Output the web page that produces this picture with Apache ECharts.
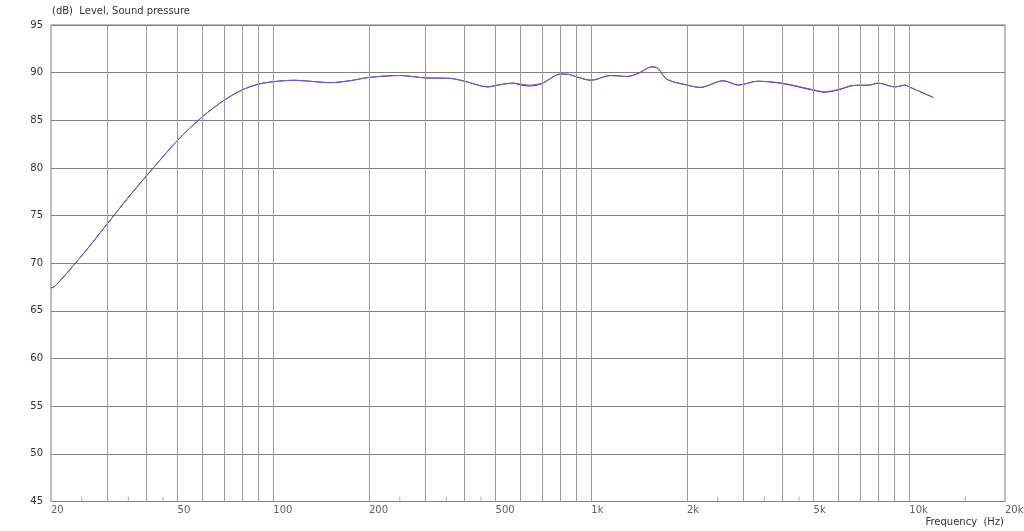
<!DOCTYPE html>
<html>
<head>
<meta charset="utf-8">
<script src="https://cdn.jsdelivr.net/npm/echarts@6/dist/echarts.min.js"></script>
<style>html,body{margin:0;padding:0;background:#fff}#c{width:1024px;height:531px}</style>
</head>
<body>
<div id="c"></div>
<script>
// Frequencies (Hz) and levels (dB)
const freqs = [20,20.6,25,30,35,40,50,60,70,80,90,100,116,130,151,174,200,250,300,360,400,474,500,568,600,640,700,800,856,900,1000,1146,1298,1400,1552,1620,1730,2000,2200,2600,2900,3330,4000,5000,5420,6000,6680,7500,8000,9000,9700,10000,11900];
const levelBlue = [67.4,67.6,70.8,74.1,76.9,79.2,82.9,85.4,87.1,88.2,88.8,89.05,89.2,89.1,88.95,89.15,89.5,89.7,89.45,89.4,89.1,88.5,88.65,88.9,88.8,88.7,88.9,89.85,89.8,89.55,89.2,89.7,89.6,89.9,90.6,90.45,89.3,88.7,88.45,89.15,88.7,89.1,88.9,88.2,88.0,88.25,88.67,88.7,88.9,88.5,88.67,88.5,87.4];
const levelRed  = [67.4,67.6,70.8,74.1,76.9,79.2,82.9,85.4,87.1,88.2,88.8,89.05,89.2,89.1,88.95,89.15,89.5,89.7,89.45,89.4,89.1,88.5,88.65,88.9,88.7,88.6,88.85,89.85,89.8,89.55,89.2,89.7,89.6,89.9,90.6,90.45,89.3,88.7,88.45,89.15,88.7,89.1,88.85,88.15,87.95,88.2,88.65,88.7,88.9,88.5,88.7,88.5,87.4];
// Axis ticks
const yTicks = [45,50,55,60,65,70,75,80,85,90,95];
const gridFreqs = [30,40,50,60,70,80,90,100,200,300,400,500,600,700,800,900,1000,2000,3000,4000,5000,6000,7000,8000,9000,10000];
const minorFreqs = [25,35,45,250,350,450,2500,3500,4500,15000];
const labelFreqs = [20,50,100,200,500,1000,2000,5000,10000,20000];
const labelTexts = ['20','50','100','200','500','1k','2k','5k','10k','20k'];

const font = 'DejaVu Sans, Verdana, sans-serif';
const chart = echarts.init(document.getElementById('c'), null, {renderer:'canvas'});
chart.setOption({
  animation:false,
  backgroundColor:'#fff',
  grid:{left:51,right:19,top:25,bottom:29.5,show:true,borderColor:'#7a7a7a',borderWidth:1,containLabel:false},
  xAxis:{type:'log',logBase:10,min:20,max:20000,
    axisLine:{show:false},axisTick:{show:false},axisLabel:{show:false},splitLine:{show:false}},
  yAxis:{type:'value',min:45,max:95,interval:5,
    axisLine:{show:false},axisTick:{show:false},
    axisLabel:{color:'#333',fontSize:10,fontFamily:font,margin:8},
    splitLine:{show:true,lineStyle:{color:'#808080',width:1}}},
  graphic:[
    {type:'text',left:52,top:6,style:{text:'(dB)  Level, Sound pressure',fill:'#333',font:'10px '+font}},
    {type:'text',right:20,top:517,style:{text:'Frequency  (Hz)',fill:'#333',font:'10px '+font}}
  ],
  series:[
    {type:'line',data:[],silent:true,
      markLine:{silent:true,symbol:'none',label:{show:false},animation:false,
        lineStyle:{color:'#9a9a9a',type:'solid',width:1},
        data:gridFreqs.map(f=>({xAxis:f}))}},
    {type:'scatter',silent:true,symbol:'rect',symbolSize:[1,5],symbolOffset:[0,-2.5],
      itemStyle:{color:'#9a9a9a'},data:minorFreqs.map(f=>[f,45])},
    {type:'scatter',silent:true,symbolSize:0,clip:false,
      data:labelFreqs.map((f,i)=>({value:[f,45],name:labelTexts[i]})),
      label:{show:true,position:'bottom',align:'left',distance:4,formatter:p=>p.name,
        color:'#333',fontSize:10,fontFamily:font}},
    {type:'line',name:'red',smooth:0.3,symbol:'none',silent:true,
      lineStyle:{color:'#800040',width:1},
      data:freqs.map((f,i)=>[f,levelRed[i]])},
    {type:'line',name:'blue',smooth:0.3,symbol:'none',silent:true,
      lineStyle:{color:'#6262e8',width:1},
      data:freqs.map((f,i)=>[f,levelBlue[i]])}
  ]
});
</script>
</body>
</html>
